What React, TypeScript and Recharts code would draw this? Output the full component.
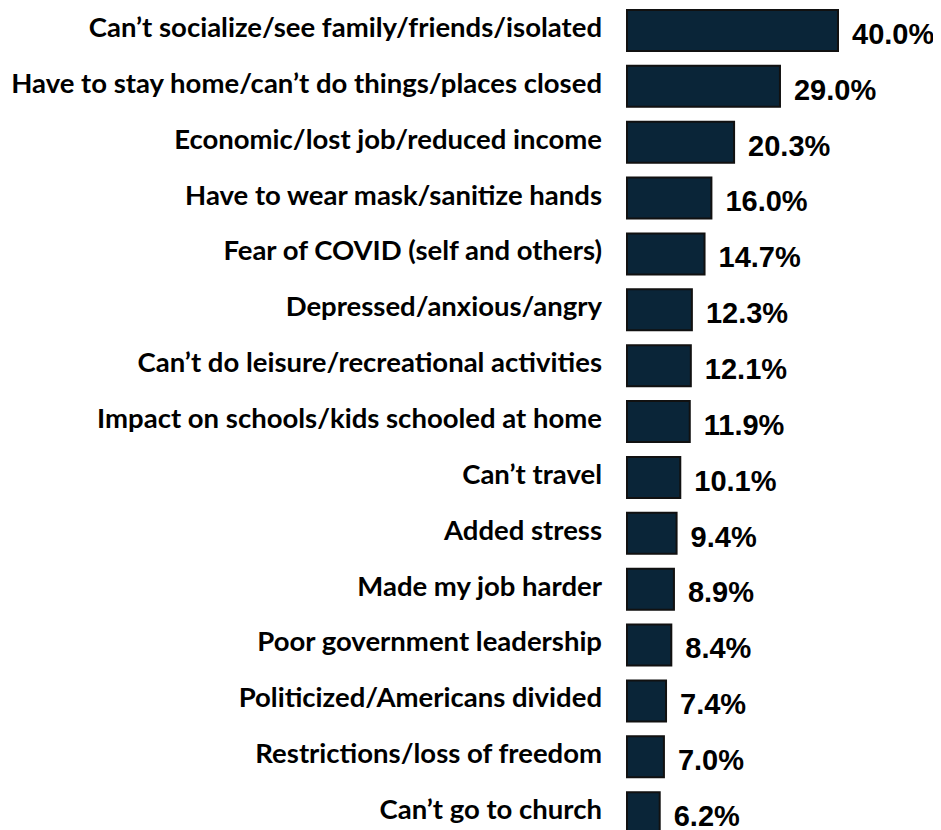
import { BarChart, Bar, XAxis, YAxis, LabelList } from "recharts";

const categories = [
  "Can’t socialize/see family/friends/isolated",
  "Have to stay home/can’t do things/places closed",
  "Economic/lost job/reduced income",
  "Have to wear mask/sanitize hands",
  "Fear of COVID (self and others)",
  "Depressed/anxious/angry",
  "Can’t do leisure/recreational activities",
  "Impact on schools/kids schooled at home",
  "Can’t travel",
  "Added stress",
  "Made my job harder",
  "Poor government leadership",
  "Politicized/Americans divided",
  "Restrictions/loss of freedom",
  "Can’t go to church",
];

const percents = [40.0, 29.0, 20.3, 16.0, 14.7, 12.3, 12.1, 11.9, 10.1, 9.4, 8.9, 8.4, 7.4, 7.0, 6.2];

const rows = categories.map((name, i) => ({ name, value: percents[i] }));

const CategoryTick = (props: any) => {
  const { x, y, payload } = props;
  return (
    <text
      x={x}
      y={y}
      dy={6}
      textAnchor="end"
      fontFamily="Lato, 'Open Sans', sans-serif"
      fontWeight={700}
      fontSize={27.5}
      fill="#000"
    >
      {payload.value}
    </text>
  );
};

export default function App() {
  return (
    <div style={{ marginTop: -5 }}>
      <BarChart
        width={933}
        height={838}
        data={rows}
        layout="vertical"
        margin={{ top: 0, right: 103, bottom: 0, left: 0 }}
        barCategoryGap={0}
      >
        <XAxis type="number" domain={[0, 40]} hide />
        <YAxis
          type="category"
          dataKey="name"
          width={619}
          axisLine={false}
          tickLine={false}
          tickSize={0}
          tickMargin={25}
          interval={0}
          tick={<CategoryTick />}
        />
        <Bar
          dataKey="value"
          barSize={41}
          fill="#0a2538"
          stroke="#111"
          strokeWidth={2}
          isAnimationActive={false}
        >
          <LabelList
            dataKey="value"
            position="right"
            offset={14}
            formatter={(v: any) => `${Number(v).toFixed(1)}%`}
            style={{
              fontFamily: "'Liberation Sans Narrow', 'Arial Narrow', 'Liberation Sans', Arial, sans-serif",
              fontWeight: 700,
              fontSize: 29,
              fill: "#000",
            }}
            dy={3}
          />
        </Bar>
      </BarChart>
    </div>
  );
}
